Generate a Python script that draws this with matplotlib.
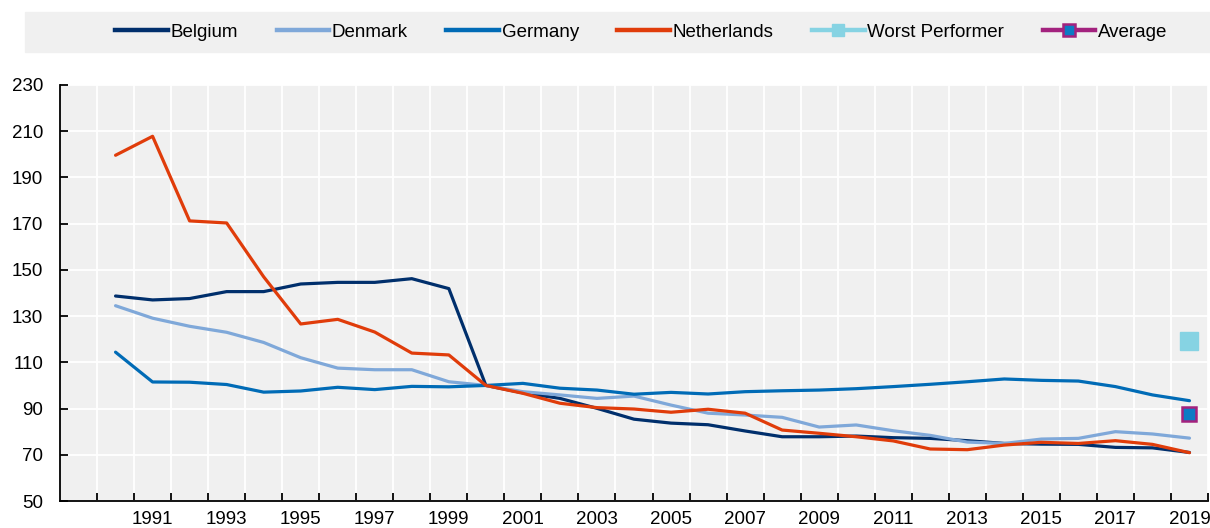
import matplotlib.pyplot as plt
from matplotlib.lines import Line2D
from matplotlib.patches import Rectangle
import numpy as np

plt.rcParams['font.family'] = ['Liberation Sans', 'DejaVu Sans']

years = list(range(1990, 2020))

belgium = [138.7, 137.0, 137.6, 140.6, 140.6, 143.9, 144.6, 144.6, 146.2, 141.9,
           100.0, 96.8, 94.4, 90.1, 85.4, 83.7, 83.0, 80.3, 77.8, 77.8,
           78.1, 77.4, 77.1, 76.1, 74.9, 74.6, 74.5, 73.2, 73.0, 71.0]
denmark = [134.5, 129.1, 125.6, 123.0, 118.6, 112.0, 107.5, 106.8, 106.8, 101.6,
           100.0, 97.3, 95.9, 94.4, 95.4, 91.5, 88.0, 87.2, 86.2, 82.0,
           82.9, 80.4, 78.4, 75.5, 74.9, 76.8, 77.1, 80.0, 79.0, 77.2]
germany = [114.4, 101.5, 101.4, 100.4, 97.1, 97.6, 99.2, 98.2, 99.6, 99.4,
           100.0, 100.9, 98.8, 98.0, 96.2, 97.0, 96.3, 97.3, 97.7, 98.0,
           98.6, 99.5, 100.5, 101.6, 102.8, 102.2, 101.9, 99.5, 95.9, 93.4]
netherlands = [199.6, 207.8, 171.2, 170.3, 147.0, 126.6, 128.6, 123.1, 114.0, 113.2,
               100.0, 96.6, 92.3, 90.4, 89.8, 88.4, 89.7, 88.0, 80.7, 79.3,
               77.8, 76.0, 72.5, 72.2, 74.2, 75.4, 74.9, 76.1, 74.5, 70.9]
worst_year = [2019]
worst = [119.3]
avg_year = [2019]
average = [87.5]

c_bel = '#002f6c'
c_den = '#7fa8d9'
c_ger = '#006bb6'
c_ned = '#e03c0a'
c_worst = '#86d3e3'
c_avg_edge = '#a3227e'
c_avg_face = '#0c7bc4'
bg = '#f0f0f0'

fig = plt.figure(figsize=(12.1, 5.28), dpi=100)
ax = fig.add_axes([60/1210, 1 - 501/528, 1148/1210, 416/528])
ax.set_facecolor(bg)

lw = 2.3
ax.plot(years, belgium, color=c_bel, lw=lw, solid_capstyle='round', zorder=3)
ax.plot(years, denmark, color=c_den, lw=lw, solid_capstyle='round', zorder=3)
ax.plot(years, germany, color=c_ger, lw=lw, solid_capstyle='round', zorder=3)
ax.plot(years, netherlands, color=c_ned, lw=lw, solid_capstyle='round', zorder=3)
ax.plot(worst_year, worst, ls='none', marker='s', ms=12.5, color=c_worst, zorder=4)
ax.plot(avg_year, average, ls='none', marker='s', ms=10, mfc=c_avg_face,
        mec=c_avg_edge, mew=1.8, zorder=4)

ax.set_xlim(1988.5, 2019.5)
ax.set_ylim(50, 230)
ax.set_yticks(np.arange(50, 231, 20))
ax.set_xticks(np.arange(1991, 2020, 2))
ax.set_xticks(np.arange(1989.5, 2019.6, 1), minor=True)

ax.grid(which='major', axis='y', color='white', lw=1.3, zorder=1)
ax.grid(which='minor', axis='x', color='white', lw=1.3, zorder=1)
ax.set_axisbelow(True)

for s in ['top', 'right']:
    ax.spines[s].set_visible(False)
ax.spines['left'].set_linewidth(1.3)
ax.spines['bottom'].set_linewidth(1.3)

ax.tick_params(axis='y', direction='in', length=6, width=1.3, pad=12, labelsize=13.5)
ax.tick_params(axis='x', which='major', length=0, pad=7, labelsize=13.5)
ax.tick_params(axis='x', which='minor', direction='in', length=6, width=1.3)

# legend band at top
fig.patches.append(Rectangle((25/1210, 1 - 52/528), 1185/1210, 40/528,
                             transform=fig.transFigure, color=bg, zorder=0))
handles = [
    Line2D([], [], color=c_bel, lw=3.2),
    Line2D([], [], color=c_den, lw=3.2),
    Line2D([], [], color=c_ger, lw=3.2),
    Line2D([], [], color=c_ned, lw=3.2),
    Line2D([], [], color=c_worst, lw=3.2, marker='s', ms=9),
    Line2D([], [], color=c_avg_edge, lw=3.2, marker='s', ms=9, mfc=c_avg_face,
           mec=c_avg_edge, mew=1.8),
]
labels = ['Belgium', 'Denmark', 'Germany', 'Netherlands', 'Worst Performer', 'Average']
fig.legend(handles, labels, loc='center', bbox_to_anchor=(0.530, 1 - 32/528),
           ncol=6, frameon=False, fontsize=13.5, handlelength=2.8,
           handletextpad=0.15, columnspacing=2.05)

fig.savefig('out.png', dpi=100)
